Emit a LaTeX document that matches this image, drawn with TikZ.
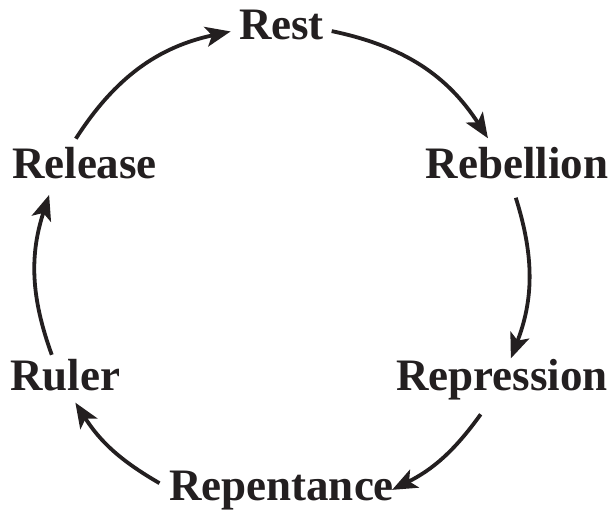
\documentclass[tikz,border=0pt]{standalone}
\usepackage{fontspec}
\setmainfont{Liberation Serif}
\usetikzlibrary{arrows.meta}
\tikzset{>={Stealth[length=25pt,width=20pt,inset=6pt]}}
\definecolor{penColor}{RGB}{35,31,32}
\tikzset{stage/.style={anchor=base,inner sep=0pt,text=penColor,font=\fontsize{45}{54}\selectfont\bfseries},
  cycle arrow/.style={->,penColor,line width=3.8pt}}

\begin{document}
\begin{tikzpicture}[x=1pt,y=1pt]
				\useasboundingbox (-282,-241) rectangle (330,271);
				% stages round the cycle
				\node[stage] (rest) at (-0.5,231.5) {Rest};
				\node[stage] (rebellion) at (235,93) {Rebellion};
				\node[stage] (repression) at (220,-119) {Repression};
				\node[stage] (repentance) at (-0.5,-229) {Repentance};
				\node[stage] (ruler) at (-217,-119) {Ruler};
				\node[stage] (release) at (-197.5,93) {Release};
				% arrow ends on the circle
				\coordinate (release-out) at (147.3:245);
				\coordinate (rest-in) at (102.1:245);
				\coordinate (rest-out) at (78.3:245);
				\coordinate (rebellion-in) at (32.8:245);
				\coordinate (rebellion-out) at (17.4:245);
				\coordinate (repression-in) at (-20.9:245);
				\coordinate (repression-out) at (-35.8:245);
				\coordinate (repentance-in) at (-63.3:245);
				\coordinate (repentance-out) at (-120:245);
				\coordinate (ruler-in) at (-147.5:245);
				\coordinate (ruler-out) at (-160:245);
				\coordinate (release-in) at (161.9:245);
				\draw[cycle arrow] (release-out) to[bend left=22.6] (rest-in);
				\draw[cycle arrow] (rest-out) to[bend left=22.7] (rebellion-in);
				\draw[cycle arrow] (rebellion-out) to[bend left=19.2] (repression-in);
				\draw[cycle arrow] (repression-out) to[bend left=13.8] (repentance-in);
				\draw[cycle arrow] (repentance-out) to[bend left=13.8] (ruler-in);
				\draw[cycle arrow] (ruler-out) to[bend left=19] (release-in);
\end{tikzpicture}
\end{document}
